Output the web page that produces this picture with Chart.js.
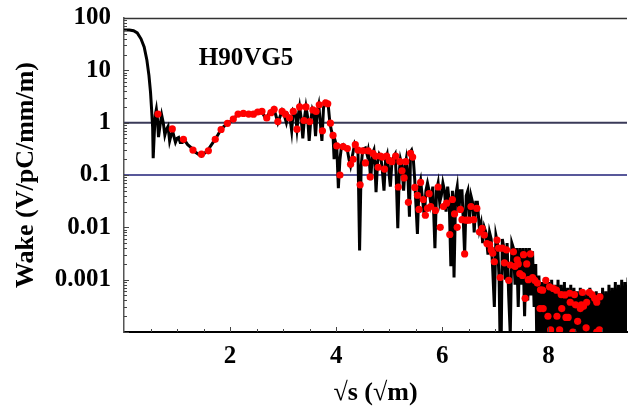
<!DOCTYPE html>
<html>
<head>
<meta charset="utf-8">
<script src="https://cdn.jsdelivr.net/npm/chart.js@4/dist/chart.umd.min.js"></script>
<style>
  html, body { margin: 0; padding: 0; background: #fff; }
</style>
</head>
<body>
<canvas id="chart" width="631" height="418"></canvas>
<script>
// sqrt(s) positions and wake amplitude of the computed wake (black line)
const wakeS = [
  0.00, 0.10, 0.18, 0.25, 0.32, 0.38, 0.43, 0.47, 0.50, 0.52,
  0.54, 0.55, 0.57, 0.59, 0.61, 0.63, 0.65, 0.68, 0.71, 0.74,
  0.77, 0.80, 0.83, 0.86, 0.89, 0.92, 0.95, 0.97, 1.00, 1.03,
  1.06, 1.10, 1.15, 1.20, 1.27, 1.33, 1.40, 1.46, 1.52, 1.58,
  1.65, 1.73, 1.80, 1.88, 1.95, 2.02, 2.10, 2.15, 2.22, 2.28,
  2.35, 2.42, 2.48, 2.55, 2.60, 2.65, 2.69, 2.73, 2.78, 2.82,
  2.86, 2.90, 2.94, 2.98, 3.02, 3.06, 3.09, 3.13, 3.16, 3.19,
  3.23, 3.26, 3.29, 3.31, 3.34, 3.37, 3.40, 3.43, 3.46, 3.49,
  3.52, 3.55, 3.58, 3.61, 3.64, 3.67, 3.70, 3.73, 3.76, 3.79,
  3.82, 3.85, 3.88, 3.91, 3.94, 3.96, 3.98, 4.01, 4.04, 4.07,
  4.10, 4.13, 4.17, 4.21, 4.24, 4.27, 4.31, 4.35, 4.38, 4.41,
  4.44, 4.47, 4.50, 4.55, 4.58, 4.60, 4.63, 4.65, 4.68, 4.71,
  4.73, 4.75, 4.78, 4.81, 4.84, 4.87, 4.90, 4.93, 4.96, 4.99,
  5.02, 5.05, 5.08, 5.11, 5.13, 5.16, 5.19, 5.21, 5.24, 5.27,
  5.30, 5.32, 5.35, 5.38, 5.40, 5.42, 5.45, 5.48, 5.50, 5.53,
  5.56, 5.59, 5.62, 5.66, 5.69, 5.72, 5.75, 5.78, 5.82, 5.86,
  5.89, 5.92, 5.95, 5.98, 6.01, 6.04, 6.07, 6.10, 6.13, 6.16,
  6.19, 6.22, 6.25, 6.28, 6.31, 6.34, 6.37, 6.40, 6.42, 6.45,
  6.48, 6.51, 6.54, 6.57, 6.60, 6.63, 6.66, 6.70, 6.73, 6.76,
  6.79, 6.82, 6.86, 6.89, 6.92, 6.95, 6.98, 7.01, 7.04, 7.07,
  7.10, 7.13, 7.16, 7.19, 7.22, 7.25, 7.28, 7.31, 7.34, 7.37,
  7.40, 7.43, 7.46, 7.49, 7.52, 7.55, 7.58, 7.61, 7.64, 7.67,
  7.70, 7.73, 7.76, 7.79, 7.82, 7.85, 7.88, 7.91, 7.94, 7.97,
  8.00, 8.03, 8.06, 8.09, 8.12, 8.15, 8.18, 8.21, 8.24, 8.27,
  8.30, 8.33, 8.36, 8.39, 8.42, 8.45, 8.48, 8.51, 8.54, 8.57,
  8.60, 8.63, 8.66, 8.69, 8.72, 8.75, 8.78, 8.81, 8.84, 8.87,
  8.90, 8.93, 8.96, 8.99, 9.02, 9.05, 9.08, 9.11, 9.14, 9.17,
  9.20, 9.23, 9.26, 9.29, 9.32, 9.35, 9.38, 9.41, 9.44, 9.47,
  9.50
];
const wakeV = [
  59, 59, 57, 52, 40, 28, 16, 8, 3.8, 1.8,
  0.8, 0.21, 0.6, 1.4, 1.8, 1.2, 0.53, 0.9, 1.4, 1.0,
  0.58, 0.75, 0.85, 0.45, 0.6, 0.67, 0.5, 0.42, 0.5, 0.52,
  0.42, 0.42, 0.45, 0.38, 0.33, 0.28, 0.25, 0.23, 0.26, 0.30,
  0.38, 0.50, 0.66, 0.84, 0.98, 1.08, 1.3, 1.48, 1.5, 1.45,
  1.45, 1.42, 1.55, 1.65, 1.62, 1.3, 1.2, 1.5, 1.6, 1.85,
  1.4, 1.0, 1.3, 1.7, 1.4, 1.0, 1.4, 1.2, 0.7, 1.7,
  1.5, 0.75, 1.5, 2.0, 1.2, 0.5, 1.2, 2.0, 1.3, 0.45,
  1.1, 1.8, 1.5, 0.55, 1.6, 2.2, 1.0, 0.45, 1.9, 2.5,
  2.4, 2.1, 1.0, 0.7, 0.55, 0.2, 0.45, 0.35, 0.056, 0.2,
  0.36, 0.38, 0.34, 0.30, 0.2, 0.15, 0.25, 0.40, 0.35, 0.28,
  0.0036, 0.15, 0.31, 0.33, 0.25, 0.30, 0.15, 0.08, 0.25, 0.30,
  0.15, 0.047, 0.18, 0.25, 0.22, 0.12, 0.05, 0.2, 0.25, 0.12,
  0.06, 0.18, 0.22, 0.25, 0.1, 0.0096, 0.12, 0.2, 0.15, 0.05,
  0.15, 0.2, 0.1, 0.016, 0.28, 0.3, 0.22, 0.08, 0.03, 0.0075,
  0.06, 0.08, 0.04, 0.016, 0.05, 0.07, 0.05, 0.03, 0.06, 0.004,
  0.05, 0.07, 0.03, 0.04, 0.07, 0.05, 0.02, 0.06, 0.03, 0.0018,
  0.05, 0.0011, 0.04, 0.06, 0.02, 0.05, 0.05, 0.01, 0.003, 0.04,
  0.05, 0.015, 0.04, 0.03, 0.008, 0.03, 0.03, 0.009, 0.012, 0.005,
  0.01, 0.008, 0.003, 0.008, 0.006, 0.0015, 0.0003, 0.007, 0.005, 0.001,
  0.00001, 0.006, 0.004, 0.001, 0.005, 0.0005, 0.00009, 0.005, 0.004, 0.0008,
  0.004, 0.0003, 0.004, 0.0008, 0.004, 0.0002, 0.004, 0.0004, 0.004, 0.0005,
  0.0035, 0.0003, 0.002, 0.00001, 0.0012, 0.00001, 0.0009, 0.00001, 0.0011, 0.00001,
  0.0009, 0.00001, 0.0010, 0.00001, 0.0008, 0.00001, 0.0010, 0.00001, 0.0008, 0.00001,
  0.0009, 0.00001, 0.0007, 0.00001, 0.0008, 0.00001, 0.0007, 0.00001, 0.0006, 0.00001,
  0.0007, 0.00001, 0.0006, 0.00001, 0.00055, 0.00001, 0.0007, 0.00001, 0.0005, 0.00001,
  0.0006, 0.00001, 0.00055, 0.00001, 0.0007, 0.00001, 0.0006, 0.00001, 0.0008, 0.00001,
  0.0007, 0.00001, 0.0009, 0.00001, 0.0008, 0.00001, 0.001, 0.00001, 0.0009, 0.00001,
  0.0011
];

// red sample points
const dotS = [
  0.64, 0.91, 1.12, 1.30, 1.46, 1.59, 1.72, 1.83, 1.95, 2.06,
  2.15, 2.25, 2.35, 2.44, 2.52, 2.60, 2.69, 2.77, 2.83, 2.90,
  2.98, 3.04, 3.12, 3.19, 3.26, 3.31, 3.39, 3.43, 3.50, 3.56,
  3.62, 3.68, 3.74, 3.80, 3.84, 3.89, 3.94, 4.01, 4.07, 4.13,
  4.21, 4.27, 4.32, 4.36, 4.41, 4.45, 4.50, 4.55, 4.60, 4.64,
  4.69, 4.74, 4.79, 4.83, 4.87, 4.91, 4.95, 5.00, 5.05, 5.12,
  5.17, 5.20, 5.24, 5.28, 5.31, 5.36, 5.40, 5.44, 5.48, 5.53,
  5.56, 5.59, 5.64, 5.68, 5.72, 5.75, 5.78, 5.87, 5.92, 5.96,
  6.02, 6.08, 6.14, 6.19, 6.23, 6.28, 6.34, 6.37, 6.42, 6.45,
  6.50, 6.54, 6.59, 6.65, 6.70, 6.75, 6.79, 6.84, 6.89, 6.92,
  6.95, 6.98, 7.03, 7.06, 7.09, 7.13, 7.17, 7.21, 7.25, 7.28,
  7.34, 7.37, 7.41, 7.43, 7.46, 7.51, 7.53, 7.56, 7.59, 7.62,
  7.66, 7.70, 7.74, 7.79, 7.84, 7.85, 7.89, 7.90, 7.95, 7.99,
  8.02, 8.04, 8.09, 8.15, 8.16, 8.21, 8.24, 8.25, 8.31, 8.33,
  8.37, 8.40, 8.41, 8.46, 8.49, 8.51, 8.55, 8.60, 8.62, 8.64,
  8.66, 8.71, 8.72, 8.77, 8.82, 8.87, 8.91, 8.91, 8.96, 8.97
];
const dotV = [
  1.46, 0.76, 0.48, 0.30, 0.25, 0.29, 0.48, 0.74, 0.97, 1.17,
  1.46, 1.5, 1.46, 1.45, 1.6, 1.64, 1.23, 1.55, 1.8, 1.05,
  1.64, 1.45, 1.23, 1.64, 0.75, 2.0, 1.1, 2.0, 1.05, 1.75,
  1.64, 2.2, 0.70, 2.4, 2.3, 0.98, 0.57, 0.36, 0.10, 0.35,
  0.32, 0.16, 0.20, 0.38, 0.30, 0.065, 0.29, 0.17, 0.29, 0.092,
  0.26, 0.23, 0.14, 0.23, 0.22, 0.13, 0.23, 0.19, 0.18, 0.23,
  0.059, 0.18, 0.12, 0.088, 0.18, 0.030, 0.26, 0.22, 0.058, 0.041,
  0.022, 0.072, 0.034, 0.017, 0.023, 0.044, 0.025, 0.021, 0.059, 0.010,
  0.025, 0.029, 0.0073, 0.034, 0.018, 0.010, 0.022, 0.014, 0.0031, 0.0137,
  0.0137, 0.025, 0.014, 0.023, 0.0081, 0.0096, 0.0071, 0.0049, 0.0047, 0.0037,
  0.0032, 0.0022, 0.0057, 0.0040, 0.0011, 0.0040, 0.0021, 0.0037, 0.00097, 0.0019,
  0.0034, 0.0018, 0.0024, 0.0020, 0.0013, 0.0012, 0.0030, 0.00044, 0.0020, 0.0010,
  0.0031, 0.0011, 0.00097, 0.00086, 0.00028, 0.00064, 0.00063, 0.00028, 0.00097, 0.0002,
  0.00073, 0.00011, 0.00068, 0.00063, 0.0002, 0.00011, 0.00052, 0.00028, 0.00051, 0.00019,
  0.00019, 0.00055, 0.00037, 0.0001, 0.00052, 0.00033, 0.00016, 0.00028, 0.00033, 0.00057,
  0.00031, 0.00012, 0.00037, 0.00057, 0.00052, 0.00044, 0.00037, 0.0001, 0.00011, 0.00047
];

const refLevels = [1, 0.1];
const xTicks = [2, 4, 6, 8];
const yTicks = [0.001, 0.01, 0.1, 1, 10, 100];
const yTickLabels = ['0.001', '0.01', '0.1', '1', '10', '100'];

const serif = '"Liberation Serif", "Times New Roman", serif';
const xMax = 9.48;

// inward tick marks, top frame line and the panel label
const decor = {
  id: 'decor',
  afterDatasetsDraw(chart) {
    const { ctx, chartArea: a, scales: { x, y } } = chart;
    ctx.save();
    ctx.strokeStyle = '#444';
    ctx.lineWidth = 1;
    for (let e = -4; e <= 2; e++) {
      for (let k = 1; k < 10; k++) {
        const v = k * Math.pow(10, e);
        if (v > 100.0001) break;
        const py = Math.round(y.getPixelForValue(v)) + 0.5;
        ctx.beginPath();
        ctx.moveTo(a.left, py);
        ctx.lineTo(a.left + (k === 1 ? 5 : 3), py);
        ctx.stroke();
      }
    }
    for (let v = 0.5; v < xMax; v += 0.5) {
      const px = Math.round(x.getPixelForValue(v)) + 0.5;
      ctx.beginPath();
      ctx.moveTo(px, a.bottom);
      ctx.lineTo(px, a.bottom - (v % 2 === 0 ? 5 : 3));
      ctx.stroke();
    }
    ctx.strokeStyle = '#333';
    ctx.lineWidth = 1.5;
    ctx.beginPath();
    ctx.moveTo(a.left, a.top + 0.5);
    ctx.lineTo(a.right, a.top + 0.5);
    ctx.stroke();

    ctx.fillStyle = '#000';
    ctx.font = 'bold 25px ' + serif;
    ctx.textAlign = 'center';
    ctx.textBaseline = 'middle';
    ctx.fillText('H90VG5', x.getPixelForValue(2.3), y.getPixelForValue(16.5));
    ctx.restore();
  }
};

const pts = (xs, ys) => xs.map((s, i) => ({ x: s, y: ys[i] }));

new Chart(document.getElementById('chart'), {
  type: 'line',
  plugins: [decor],
  data: {
    datasets: [
      {
        data: pts(dotS, dotV),
        showLine: false,
        pointRadius: 3.6,
        pointBackgroundColor: '#ff0000',
        pointBorderWidth: 0
      },
      {
        data: pts(wakeS, wakeV),
        borderColor: '#000',
        borderWidth: 3,
        pointRadius: 0,
        tension: 0
      },
      {
        data: [{ x: 0, y: refLevels[0] }, { x: xMax, y: refLevels[0] }],
        borderColor: '#3a3a58',
        borderWidth: 2,
        pointRadius: 0
      },
      {
        data: [{ x: 0, y: refLevels[1] }, { x: xMax, y: refLevels[1] }],
        borderColor: '#202078',
        borderWidth: 1.4,
        pointRadius: 0
      }
    ]
  },
  options: {
    responsive: false,
    animation: false,
    layout: { padding: { top: 18, right: 0, left: 0, bottom: 0 } },
    plugins: { legend: { display: false }, tooltip: { enabled: false } },
    scales: {
      x: {
        type: 'linear',
        min: 0,
        max: xMax,
        afterBuildTicks: (scale) => { scale.ticks = xTicks.map((v) => ({ value: v })); },
        afterFit: (scale) => { scale.height = 86; scale.paddingLeft = 0; scale.paddingRight = 0; },
        grid: { display: false, drawTicks: false },
        border: { display: true, color: '#000', width: 2 },
        ticks: { padding: 10, color: '#000', font: { family: serif, size: 25, weight: 'bold' } },
        title: {
          display: true,
          text: '√s (√m)',
          color: '#000',
          padding: { top: 0, bottom: 9 },
          font: { family: serif, size: 26, weight: 'bold' }
        }
      },
      y: {
        type: 'logarithmic',
        min: 0.0001,
        max: 100,
        afterBuildTicks: (scale) => { scale.ticks = yTicks.map((v) => ({ value: v })); },
        afterFit: (scale) => { scale.width = 124; scale.paddingTop = 0; scale.paddingBottom = 0; },
        grid: { display: false, drawTicks: false },
        border: { display: true, color: '#555', width: 1.5 },
        ticks: {
          padding: 13,
          color: '#000',
          font: { family: serif, size: 25, weight: 'bold' },
          callback: (v) => yTickLabels[yTicks.indexOf(v)]
        },
        title: {
          display: true,
          text: 'Wake (V/pC/mm/m)',
          color: '#000',
          padding: { top: 11, bottom: 0 },
          font: { family: serif, size: 26, weight: 'bold' }
        }
      }
    }
  }
});
</script>
</body>
</html>
